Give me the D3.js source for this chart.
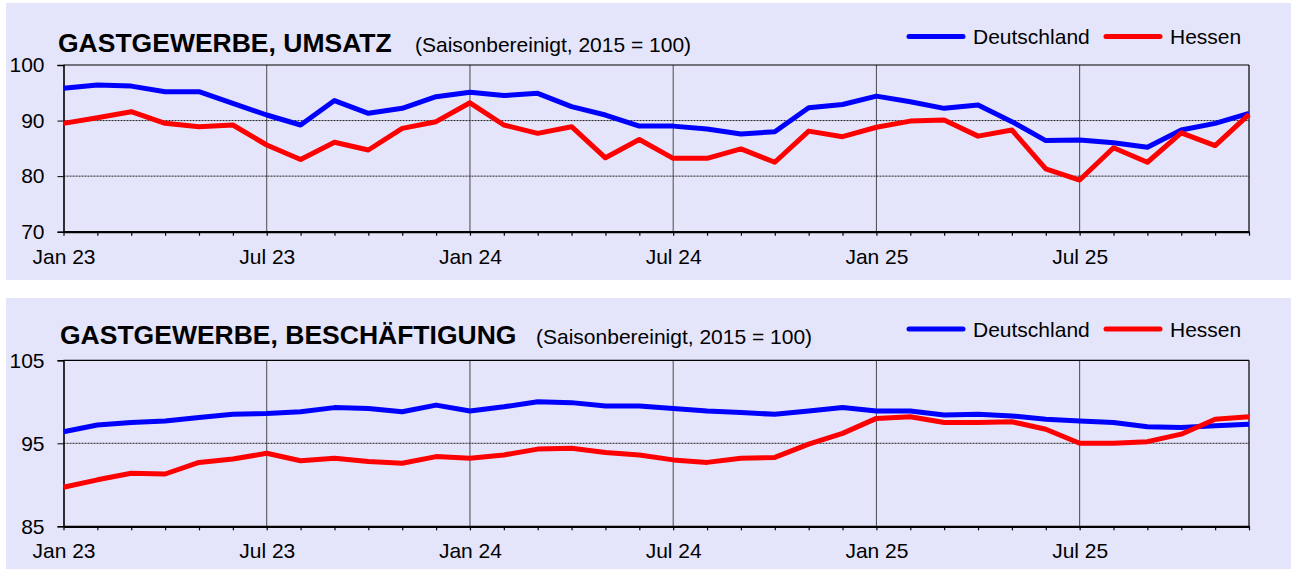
<!DOCTYPE html>
<html lang="de">
<head>
    <meta charset="UTF-8">
    <title>Gastgewerbe Umsatz und Beschäftigung</title>
    <script src="https://d3js.org/d3.v7.min.js"></script>
    <style>
        body {
            margin: 0;
            background: white;
        }

        svg text {
            font-family: "Liberation Sans", Arial, sans-serif;
            fill: black;
        }

        .title {
            font-size: 26.5px;
            font-weight: bold;
        }

        .subtitle {
            font-size: 21px;
        }

        .legend-text {
            font-size: 21px;
        }
    </style>
</head>
<body>
    <svg id="chart"></svg>
    <script>
        const width = 1291;
        const height = 569;

        const months = [
            "Jan 23", "Feb 23", "Mär 23", "Apr 23", "Mai 23", "Jun 23",
            "Jul 23", "Aug 23", "Sep 23", "Okt 23", "Nov 23", "Dez 23",
            "Jan 24", "Feb 24", "Mär 24", "Apr 24", "Mai 24", "Jun 24",
            "Jul 24", "Aug 24", "Sep 24", "Okt 24", "Nov 24", "Dez 24",
            "Jan 25", "Feb 25", "Mär 25", "Apr 25", "Mai 25", "Jun 25",
            "Jul 25", "Aug 25", "Sep 25", "Okt 25", "Nov 25", "Dez 25"
        ];
        const tickLabels = ["Jan 23", "Jul 23", "Jan 24", "Jul 24", "Jan 25", "Jul 25"];

        // Umsatz
        const umsatzDeutschland = [
            95.8, 96.4, 96.2, 95.2, 95.2, 93.1, 91.0, 89.2, 93.6, 91.3, 92.2, 94.3,
            95.1, 94.5, 94.9, 92.5, 91.0, 89.0, 89.0, 88.5, 87.6, 88.0, 92.3, 92.9,
            94.4, 93.4, 92.2, 92.8, 89.8, 86.4, 86.5, 86.0, 85.2, 88.3, 89.5, 91.3
        ];
        const umsatzHessen = [
            89.5, 90.5, 91.6, 89.5, 88.9, 89.2, 85.6, 83.0, 86.1, 84.7, 88.6, 89.8,
            93.2, 89.2, 87.7, 88.9, 83.3, 86.6, 83.2, 83.2, 84.9, 82.5, 88.1, 87.1,
            88.8, 89.9, 90.1, 87.2, 88.3, 81.3, 79.3, 85.1, 82.5, 87.8, 85.5, 91.1
        ];

        // Beschäftigung
        const beschDeutschland = [
            96.4, 97.2, 97.5, 97.7, 98.1, 98.5, 98.6, 98.8, 99.3, 99.2, 98.8, 99.6,
            98.9, 99.4, 100.0, 99.9, 99.5, 99.5, 99.2, 98.9, 98.7, 98.5, 98.9, 99.3,
            98.9, 98.9, 98.4, 98.5, 98.3, 97.9, 97.7, 97.5, 97.0, 96.9, 97.1, 97.3
        ];
        const beschHessen = [
            89.7, 90.6, 91.4, 91.3, 92.7, 93.1, 93.8, 92.9, 93.2, 92.8, 92.6, 93.4,
            93.2, 93.6, 94.3, 94.4, 93.9, 93.6, 93.0, 92.7, 93.2, 93.3, 94.9, 96.2,
            98.0, 98.2, 97.5, 97.5, 97.6, 96.7, 95.0, 95.0, 95.2, 96.1, 97.9, 98.2
        ];

        const seriesNames = ["Deutschland", "Hessen"];
        const seriesColors = ["#0000ff", "#ff0000"];

        const panels = [
            {
                title: "GASTGEWERBE, UMSATZ",
                titleX: 58, subX: 415,
                bgTop: 3, bgBottom: 280,
                plotTop: 65, plotBottom: 231.7,
                domain: [70, 100], ticks: [70, 80, 90, 100], gridY: [80, 90],
                legendY: 36.5,
                values: [umsatzDeutschland, umsatzHessen]
            },
            {
                title: "GASTGEWERBE, BESCHÄFTIGUNG",
                titleX: 60, subX: 536,
                bgTop: 298, bgBottom: 569,
                plotTop: 360.3, plotBottom: 526.3,
                domain: [85, 105], ticks: [85, 95, 105], gridY: [95],
                legendY: 329,
                values: [beschDeutschland, beschHessen]
            }
        ];

        const svg = d3.select("#chart")
            .attr("width", width)
            .attr("height", height);

        const x = d3.scalePoint()
            .domain(months)
            .range([63.5, 1249]);

        panels.forEach(p => {
            const g = svg.append("g");

            g.append("rect")
                .attr("x", 6)
                .attr("y", p.bgTop)
                .attr("width", width - 6)
                .attr("height", p.bgBottom - p.bgTop)
                .attr("fill", "#e4e4fa");

            const y = d3.scaleLinear()
                .domain(p.domain)
                .range([p.plotBottom, p.plotTop]);

            // half-year vertical lines
            g.selectAll(".vgrid")
                .data(tickLabels.slice(1))
                .enter().append("line")
                .attr("x1", d => x(d))
                .attr("x2", d => x(d))
                .attr("y1", p.plotTop)
                .attr("y2", p.plotBottom)
                .attr("stroke", "#4a4a4a")
                .attr("stroke-width", 1);

            // dotted horizontal lines
            g.selectAll(".hgrid")
                .data(p.gridY)
                .enter().append("line")
                .attr("x1", x.range()[0])
                .attr("x2", x.range()[1])
                .attr("y1", d => y(d))
                .attr("y2", d => y(d))
                .attr("stroke", "#222")
                .attr("stroke-width", 1)
                .attr("stroke-dasharray", "2,1");

            // top and right frame
            g.append("line")
                .attr("x1", x.range()[0]).attr("x2", x.range()[1])
                .attr("y1", p.plotTop).attr("y2", p.plotTop)
                .attr("stroke", "black").attr("stroke-width", 1.2);
            g.append("line")
                .attr("x1", x.range()[1]).attr("x2", x.range()[1])
                .attr("y1", p.plotTop).attr("y2", p.plotBottom)
                .attr("stroke", "black").attr("stroke-width", 1.2);

            // y axis
            const yAxis = g.append("g")
                .attr("transform", `translate(${x.range()[0]},0)`)
                .call(d3.axisLeft(y).tickValues(p.ticks).tickSize(6).tickPadding(13));
            yAxis.select(".domain").attr("stroke-width", 1.6);
            yAxis.selectAll("text")
                .style("font-size", "21px")
                .attr("fill", "black");

            // x axis
            const xAxis = g.append("g")
                .attr("transform", `translate(0,${p.plotBottom})`)
                .call(d3.axisBottom(x).tickSize(4).tickSizeOuter(0)
                    .tickFormat(d => tickLabels.includes(d) ? d : ""));
            xAxis.select(".domain").attr("stroke-width", 2.2);
            xAxis.selectAll("line").attr("stroke-width", 1.2);
            xAxis.selectAll("text")
                .style("font-size", "21px")
                .attr("y", 17)
                .attr("fill", "black");

            const line = d3.line()
                .x((d, i) => x(months[i]))
                .y(d => y(d));

            p.values.forEach((vals, k) => {
                g.append("path")
                    .datum(vals)
                    .attr("fill", "none")
                    .attr("stroke", seriesColors[k])
                    .attr("stroke-width", 5)
                    .attr("stroke-linejoin", "round")
                    .attr("d", line);
            });

            // title
            g.append("text")
                .attr("class", "title")
                .attr("x", p.titleX)
                .attr("y", p.legendY + 15)
                .text(p.title);
            g.append("text")
                .attr("class", "subtitle")
                .attr("x", p.subX)
                .attr("y", p.legendY + 15)
                .text("(Saisonbereinigt, 2015 = 100)");

            // legend
            const legendX = [909, 1106];
            seriesNames.forEach((name, k) => {
                g.append("line")
                    .attr("x1", legendX[k])
                    .attr("x2", legendX[k] + 54)
                    .attr("y1", p.legendY)
                    .attr("y2", p.legendY)
                    .attr("stroke", seriesColors[k])
                    .attr("stroke-width", 5)
                    .attr("stroke-linecap", "round");
                g.append("text")
                    .attr("class", "legend-text")
                    .attr("x", legendX[k] + 64)
                    .attr("y", p.legendY + 7.5)
                    .text(name);
            });
        });
    </script>
</body>
</html>
